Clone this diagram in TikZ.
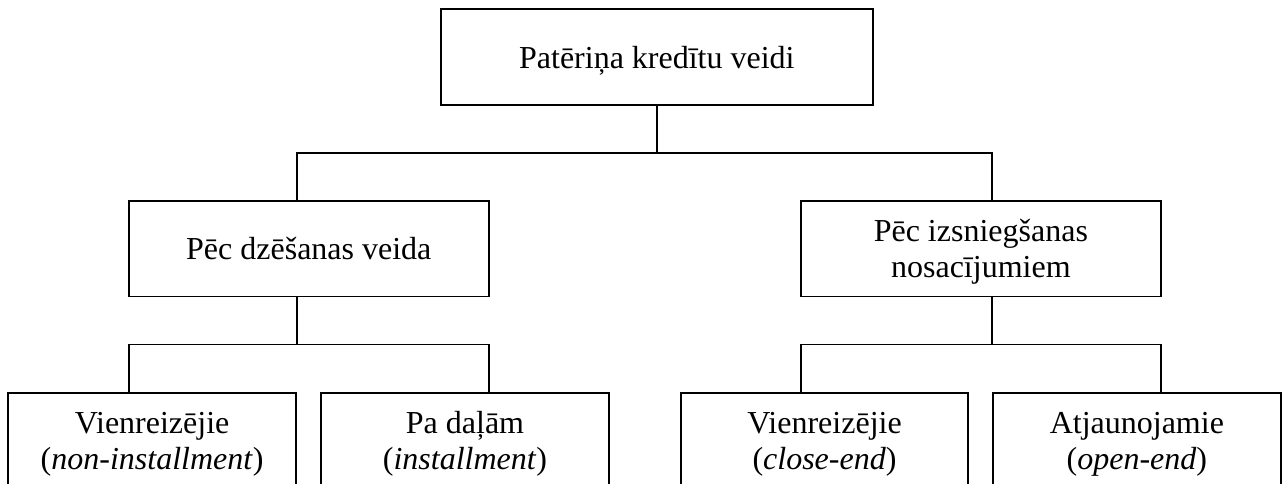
\documentclass[tikz,border=0pt]{standalone}
\usepackage{fontspec}
\setmainfont{Liberation Serif}
\begin{document}
\begin{tikzpicture}[x=1pt,y=-1pt,
  box/.style={draw,line width=1.8pt,inner sep=0pt,outer sep=0pt,align=center,
    font=\fontsize{32}{36}\selectfont},
  link/.style={line width=1.8pt}]
\useasboundingbox (0,0) rectangle (1282,484);
% boxes
\node[box,minimum width=432.3,minimum height=96,text depth=0pt] (top) at (656.85,57) {Patēriņa kredītu veidi};
\node[box,minimum width=360.4,minimum height=95.5] (L) at (308.8,248.7) {Pēc dzēšanas veida};
\node[box,minimum width=360.3,minimum height=95.5] (R) at (980.85,248.7) {\rule{0pt}{29pt}Pēc izsniegšanas\\nosacījumiem};
\node[box,minimum width=287.7,minimum height=102] (b1) at (152.15,444.3) {Vienreizējie\\(\textit{non-installment})};
\node[box,minimum width=288.6,minimum height=102] (b2) at (465,444.3) {Pa daļām\\(\textit{installment})};
\node[box,minimum width=287.6,minimum height=102] (b3) at (824.5,444.3) {Vienreizējie\\(\textit{close-end})};
\node[box,minimum width=288.3,minimum height=102] (b4) at (1136.85,444.3) {Atjaunojamie\\(\textit{open-end})};
% junction points
\coordinate (hL) at (296.7,153.3);
\coordinate (hR) at (992.3,153.3);
\coordinate (lL) at (296.7,344.5);
\coordinate (lR) at (992.3,344.5);
% connectors
\draw[link] (top.south) -- (top.south |- hL);
\draw[link] (L.north -| hL) -- (hL) -- (hR) -- (R.north -| hR);
\draw[link] (L.south -| lL) -- (lL);
\draw[link] (b1.north -| L.west) -- (L.west |- lL) -- (L.east |- lL) -- (b2.north -| L.east);
\draw[link] (R.south -| lR) -- (lR);
\draw[link] (b3.north -| R.west) -- (R.west |- lR) -- (R.east |- lR) -- (b4.north -| R.east);
\end{tikzpicture}
\end{document}
